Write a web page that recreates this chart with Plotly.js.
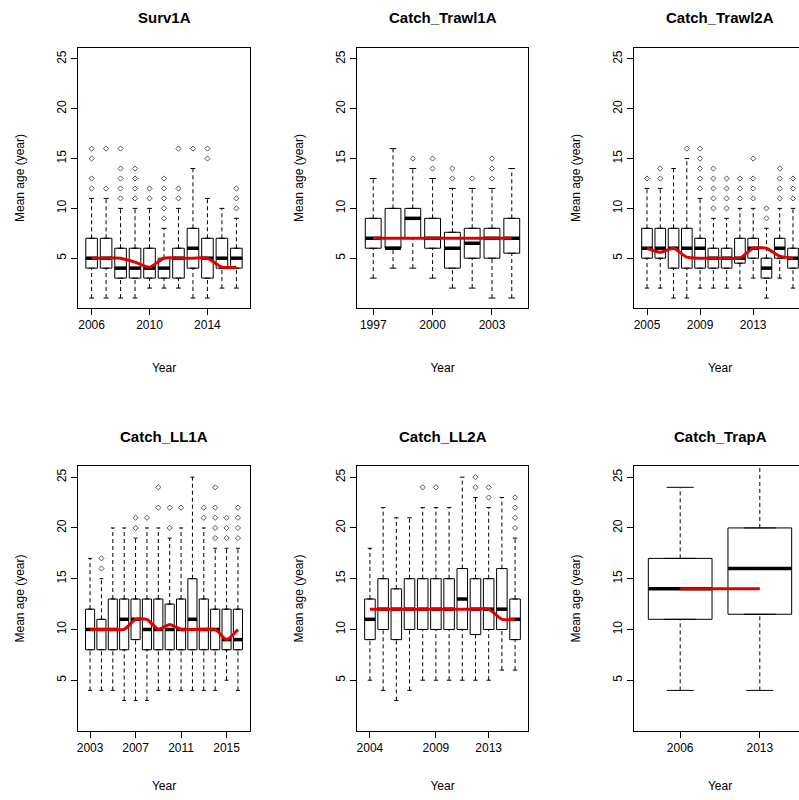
<!DOCTYPE html>
<html>
<head>
<meta charset="utf-8">
<script src="https://cdn.plot.ly/plotly-3.0.1.min.js"></script>
<style>
  body { margin: 0; overflow: hidden; background: #fff; }
  #plot { width: 810px; height: 800px; }
</style>
</head>
<body>
<div id="plot"></div>
<script>
// ---- data ----
var survYears = [2006, 2007, 2008, 2009, 2010, 2011, 2012, 2013, 2014, 2015, 2016];
var survQ1  = [4, 4, 3, 3, 3, 3, 3, 4, 3, 4, 4];
var survMed = [5, 5, 4, 4, 4, 4, 5, 6, 5, 5, 5];
var survQ3  = [7, 7, 6, 6, 6, 5, 6, 8, 7, 7, 6];
var survLo  = [1, 1, 1, 1, 2, 2, 2, 1, 1, 2, 2];
var survHi  = [11, 11, 10, 10, 10, 8, 10, 14, 11, 10, 9];
var survOut = [[12, 13, 15, 16], [12, 16], [11, 12, 13, 14, 16], [11, 12, 13, 14], [11, 12],
               [9, 10, 11, 12, 13], [11, 12, 16], [16], [15, 16], [], [10, 11, 12]];
var survMean = [5, 5, 5, 4.6, 4.1, 5, 5, 5, 5, 4.1, 4.1];

var trawl1Years = [1997, 1998, 1999, 2000, 2001, 2002, 2003, 2004];
var trawl1Q1  = [6, 6, 7, 6, 4, 5, 5, 5.5];
var trawl1Med = [7, 6, 9, 7, 6, 6.5, 7, 7];
var trawl1Q3  = [9, 10, 10, 9, 7.6, 8, 8, 9];
var trawl1Lo  = [3, 4, 4, 3, 2, 2, 1, 1];
var trawl1Hi  = [13, 16, 14, 13, 12, 12, 12, 14];
var trawl1Out = [[], [], [15], [14, 15], [13, 14], [13], [13, 14, 15], []];
var trawl1Mean = [7, 7, 7, 7, 7, 7, 7, 7];

var trawl2Years = [2005, 2006, 2007, 2008, 2009, 2010, 2011, 2012, 2013, 2014, 2015, 2016];
var trawl2Q1  = [5, 5, 4, 4, 4, 4, 4, 4.5, 5, 3, 5, 4];
var trawl2Med = [6, 6, 6, 6, 6, 5, 5, 5, 6, 4, 6, 5];
var trawl2Q3  = [8, 8, 8, 8, 7, 6, 6, 7, 7, 5, 7, 6];
var trawl2Lo  = [2, 2, 1, 1, 2, 2, 2, 2, 3, 1, 3, 2];
var trawl2Hi  = [12, 12, 14, 15, 11, 9, 9, 10, 10, 8, 10, 10];
var trawl2Out = [[13], [13, 14], [], [16], [12, 13, 14, 15, 16], [10, 11, 12, 13, 14],
                 [10, 11, 12, 13], [11, 12, 13], [11, 12, 13, 15], [9, 10], [11, 12, 13, 14], [11, 12, 13]];
var trawl2Mean = [6, 5.6, 6, 5.1, 5, 5, 5, 5, 6, 6, 5.2, 5];

var ll1Years = [2003, 2004, 2005, 2006, 2007, 2008, 2009, 2010, 2011, 2012, 2013, 2014, 2015, 2016];
var ll1Q1  = [8, 8, 8, 8, 9, 8, 8, 8, 8, 8, 8, 8, 8, 8];
var ll1Med = [10, 10, 10, 11, 11, 10, 10, 10, 10, 11, 10, 10, 9, 9];
var ll1Q3  = [12, 11, 13, 13, 13, 13, 13, 12.5, 13, 15, 13, 12, 12, 12];
var ll1Lo  = [4, 4, 4, 3, 3, 3, 4, 4, 4, 4, 4, 4, 5, 4];
var ll1Hi  = [17, 15, 20, 20, 19, 20, 20, 19, 20, 25, 20, 18, 18, 18];
var ll1Out = [[], [16, 17], [], [], [20, 21], [21], [22, 24], [20, 22], [22], [],
              [21, 22], [19, 20, 21, 22, 24], [19, 20, 21], [19, 20, 21, 22]];
var ll1Mean = [10, 10, 10, 10, 11, 11, 10, 10.5, 10, 10, 10, 10, 9, 10];

var ll2Years = [2004, 2005, 2006, 2007, 2008, 2009, 2010, 2011, 2012, 2013, 2014, 2015];
var ll2Q1  = [9, 10, 9, 10, 10, 10, 10, 10, 9.5, 10, 10, 9];
var ll2Med = [11, 12, 12, 12, 12, 12, 12, 13, 12, 12, 12, 11];
var ll2Q3  = [13, 15, 14, 15, 15, 15, 15, 16, 15, 15, 16, 13];
var ll2Lo  = [5, 4, 3, 4, 5, 5, 5, 5, 5, 5, 6, 6];
var ll2Hi  = [18, 22, 21, 21, 22, 22, 22, 25, 23, 22, 23, 19];
var ll2Out = [[], [], [], [], [24], [24], [], [], [24, 25], [23, 24], [], [20, 21, 22, 23]];
var ll2Mean = [12, 12, 12, 12, 12, 12, 12, 12, 12, 12, 11, 11];

var trapYears = [2006, 2013];
var trapQ1  = [11, 11.5];
var trapMed = [14, 16];
var trapQ3  = [17, 20];
var trapLo  = [4, 4];
var trapHi  = [24, 27];
var trapOut = [[], []];
var trapMean = [14, 14];

var panels = [
  {title: "Surv1A", years: survYears, q1: survQ1, med: survMed, q3: survQ3, lo: survLo, hi: survHi, out: survOut, mean: survMean, ticks: [2006, 2010, 2014]},
  {title: "Catch_Trawl1A", years: trawl1Years, q1: trawl1Q1, med: trawl1Med, q3: trawl1Q3, lo: trawl1Lo, hi: trawl1Hi, out: trawl1Out, mean: trawl1Mean, ticks: [1997, 2000, 2003]},
  {title: "Catch_Trawl2A", years: trawl2Years, q1: trawl2Q1, med: trawl2Med, q3: trawl2Q3, lo: trawl2Lo, hi: trawl2Hi, out: trawl2Out, mean: trawl2Mean, ticks: [2005, 2009, 2013]},
  {title: "Catch_LL1A", years: ll1Years, q1: ll1Q1, med: ll1Med, q3: ll1Q3, lo: ll1Lo, hi: ll1Hi, out: ll1Out, mean: ll1Mean, ticks: [2003, 2007, 2011, 2015]},
  {title: "Catch_LL2A", years: ll2Years, q1: ll2Q1, med: ll2Med, q3: ll2Q3, lo: ll2Lo, hi: ll2Hi, out: ll2Out, mean: ll2Mean, ticks: [2004, 2009, 2013]},
  {title: "Catch_TrapA", years: trapYears, q1: trapQ1, med: trapMed, q3: trapQ3, lo: trapLo, hi: trapHi, out: trapOut, mean: trapMean, ticks: [2006, 2013]}
];

// pixel frames of each plot region (page is 810 wide, right edge is cut off)
var W = 810, H = 800;
var cols = [[78, 250], [357, 528], [634, 806]];
var rows = [[48, 308], [466, 731]];
var FONT = "Liberation Sans, Arial, sans-serif";

var traces = [];
var layout = {
  width: W, height: H,
  margin: {l: 0, r: 0, t: 0, b: 0},
  paper_bgcolor: "#fff", plot_bgcolor: "#fff",
  showlegend: false,
  font: {family: FONT, size: 12, color: "#000"},
  annotations: []
};

panels.forEach(function (p, k) {
  var n = p.years.length;
  var idx = p.years.map(function (_, i) { return i + 1; });
  var ax = k === 0 ? "" : String(k + 1);
  var xa = "x" + ax, ya = "y" + ax;
  var c = cols[k % 3], r = rows[Math.floor(k / 3)];

  // boxes (no whiskers, drawn separately dashed like R)
  traces.push({
    type: "box", xaxis: xa, yaxis: ya, x: idx,
    q1: p.q1, median: p.med, q3: p.q3, lowerfence: p.q1, upperfence: p.q3,
    width: 0.8, boxpoints: false, fillcolor: "#fff",
    line: {color: "#000", width: 1}, hoverinfo: "skip"
  });

  var wx = [], wy = [], cx = [], cy = [], mx = [], my = [], ox = [], oy = [];
  for (var i = 0; i < n; i++) {
    var x = idx[i];
    wx.push(x, x, null, x, x, null);
    wy.push(p.q3[i], p.hi[i], null, p.lo[i], p.q1[i], null);
    cx.push(x - 0.17, x + 0.17, null, x - 0.17, x + 0.17, null);
    cy.push(p.hi[i], p.hi[i], null, p.lo[i], p.lo[i], null);
    mx.push(x - 0.4, x + 0.4, null);
    my.push(p.med[i], p.med[i], null);
    p.out[i].forEach(function (v) { ox.push(x); oy.push(v); });
  }
  traces.push({type: "scatter", mode: "lines", xaxis: xa, yaxis: ya, x: wx, y: wy,
    line: {color: "#000", width: 1, dash: "4px,3px"}, hoverinfo: "skip"});
  traces.push({type: "scatter", mode: "lines", xaxis: xa, yaxis: ya, x: cx, y: cy,
    line: {color: "#000", width: 1}, hoverinfo: "skip"});
  traces.push({type: "scatter", mode: "lines", xaxis: xa, yaxis: ya, x: mx, y: my,
    line: {color: "#000", width: 3.5}, hoverinfo: "skip"});
  traces.push({type: "scatter", mode: "markers", xaxis: xa, yaxis: ya, x: ox, y: oy,
    marker: {symbol: "diamond-open", size: 4, color: "#555", line: {width: 1}}, hoverinfo: "skip"});
  traces.push({type: "scatter", mode: "lines", xaxis: xa, yaxis: ya, x: idx, y: p.mean,
    line: {color: "#e00000", width: 3, shape: "spline", smoothing: 0.6}, hoverinfo: "skip"});

  var ext = 0.04 * n;
  layout["xaxis" + ax] = {
    domain: [c[0] / W, c[1] / W], anchor: ya,
    range: [0.5 - ext, n + 0.5 + ext],
    tickvals: p.ticks.map(function (t) { return p.years.indexOf(t) + 1; }),
    ticktext: p.ticks.map(String),
    ticks: "outside", ticklen: 6, tickcolor: "#000",
    showline: true, mirror: true, linecolor: "#000", linewidth: 1,
    showgrid: false, zeroline: false,
    tickfont: {family: FONT, size: 12, color: "#000"},
    title: {text: "Year", font: {family: FONT, size: 12, color: "#000"}, standoff: k < 3 ? 32 : 27}
  };
  layout["yaxis" + ax] = {
    domain: [1 - r[1] / H, 1 - r[0] / H], anchor: xa,
    range: [0, 26.1],
    tickvals: [5, 10, 15, 20, 25],
    tickangle: -90,
    ticks: "outside", ticklen: 6, tickcolor: "#000",
    showline: true, mirror: true, linecolor: "#000", linewidth: 1,
    showgrid: false, zeroline: false,
    tickfont: {family: FONT, size: 12, color: "#000"},
    title: {text: "Mean age (year)", font: {family: FONT, size: 12, color: "#000"}, standoff: 28}
  };
  layout.annotations.push({
    text: "<b>" + p.title + "</b>", showarrow: false,
    xref: "paper", yref: "paper",
    x: (c[0] + c[1]) / 2 / W, y: 1 - (r[0] - 30) / H,
    xanchor: "center", yanchor: "middle",
    font: {family: FONT, size: 15, color: "#000"}
  });
});

Plotly.newPlot("plot", traces, layout, {staticPlot: true});
</script>
</body>
</html>
